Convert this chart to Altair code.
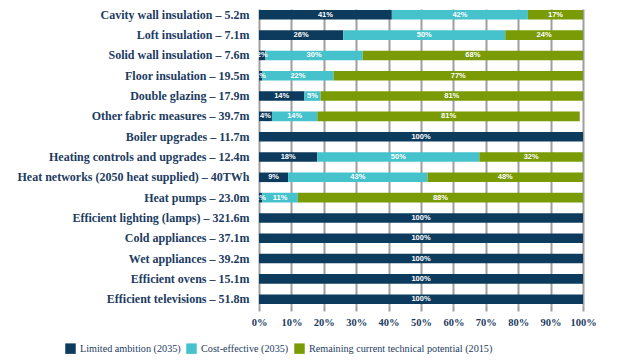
import altair as alt
import pandas as pd

measures = [
    "Cavity wall insulation – 5.2m",
    "Loft insulation – 7.1m",
    "Solid wall insulation – 7.6m",
    "Floor insulation – 19.5m",
    "Double glazing – 17.9m",
    "Other fabric measures – 39.7m",
    "Boiler upgrades – 11.7m",
    "Heating controls and upgrades – 12.4m",
    "Heat networks (2050 heat supplied) – 40TWh",
    "Heat pumps – 23.0m",
    "Efficient lighting (lamps) – 321.6m",
    "Cold appliances – 37.1m",
    "Wet appliances – 39.2m",
    "Efficient ovens – 15.1m",
    "Efficient televisions – 51.8m",
]
limited = [41, 26, 2, 1, 14, 4, 100, 18, 9, 1, 100, 100, 100, 100, 100]
cost_eff = [42, 50, 30, 22, 5, 14, 0, 50, 43, 11, 0, 0, 0, 0, 0]
remaining = [17, 24, 68, 77, 81, 81, 0, 32, 48, 88, 0, 0, 0, 0, 0]

series = ["Limited ambition (2035)", "Cost-effective (2035)", "Remaining current technical potential (2015)"]
colors = ["#0d3b5e", "#46c2cc", "#7a9b06"]
x_ticks = [i / 10 for i in range(11)]

rows = []
for i, m in enumerate(measures):
    for k, (s, vals) in enumerate(zip(series, [limited, cost_eff, remaining])):
        if vals[i] > 0:
            rows.append({"measure": m, "series": s, "order": k, "value": vals[i] / 100.0,
                         "label": f"{vals[i]}%"})
df = pd.DataFrame(rows)

PLOT_W, PLOT_H = 324, 296
x_scale = alt.Scale(domain=[0, 1], nice=False)
y_scale = alt.Scale(paddingInner=0.53, paddingOuter=0.05)


def x_axis():
    return alt.Axis(format="%", values=x_ticks, labelOverlap=False, labelFlush=False,
                    grid=True, gridColor="#9e9e9e", gridWidth=2, gridOpacity=1,
                    ticks=True, tickColor="#9e9e9e", tickWidth=2, tickSize=6,
                    title=None)


base = alt.Chart(df).transform_stack(
    stack="value", groupby=["measure"], as_=["x0", "x1"], sort=[alt.SortField("order")]
).transform_calculate(mid="(datum.x0 + datum.x1) / 2")

bars = base.mark_bar().encode(
    x=alt.X("x0:Q", scale=x_scale, title=None, axis=x_axis()),
    x2="x1:Q",
    y=alt.Y("measure:N", sort=measures, title=None, scale=y_scale),
    color=alt.Color("series:N", sort=series, scale=alt.Scale(domain=series, range=colors),
                    legend=alt.Legend(orient="none", legendX=-194, legendY=334,
                                      direction="horizontal", title=None,
                                      symbolType="square", symbolSize=110, symbolStrokeWidth=0,
                                      labelFont="Liberation Serif", labelFontSize=10.2,
                                      labelColor="#1d3c62", columnPadding=5, labelLimit=400)),
    order=alt.Order("order:Q"),
)

texts = base.mark_text(color="white", fontSize=7.5, font="Liberation Sans", fontWeight="bold").encode(
    x=alt.X("mid:Q", scale=x_scale, title=None, axis=x_axis()),
    y=alt.Y("measure:N", sort=measures, scale=y_scale, title=None),
    text="label:N",
)

chart = (bars + texts).properties(
    width=PLOT_W, height=PLOT_H, padding={"left": 8, "top": 0, "right": 5, "bottom": 5}
).configure_view(stroke=None).configure_axisX(
    domain=False, grid=True, gridColor="#9e9e9e", gridWidth=2,
    labelFont="Liberation Serif", labelFontSize=10.5, labelFontWeight="bold",
    labelColor="#1d3c62", labelPadding=6, labelOverlap=False, labelFlush=False
).configure_axisY(
    labelFont="Liberation Serif", labelFontSize=12, labelFontWeight="bold",
    labelColor="#1d3c62", ticks=False, domain=False, labelPadding=10, labelLimit=400, grid=False
)

chart.save("out.html", embed_options={"renderer": "svg", "actions": False})
